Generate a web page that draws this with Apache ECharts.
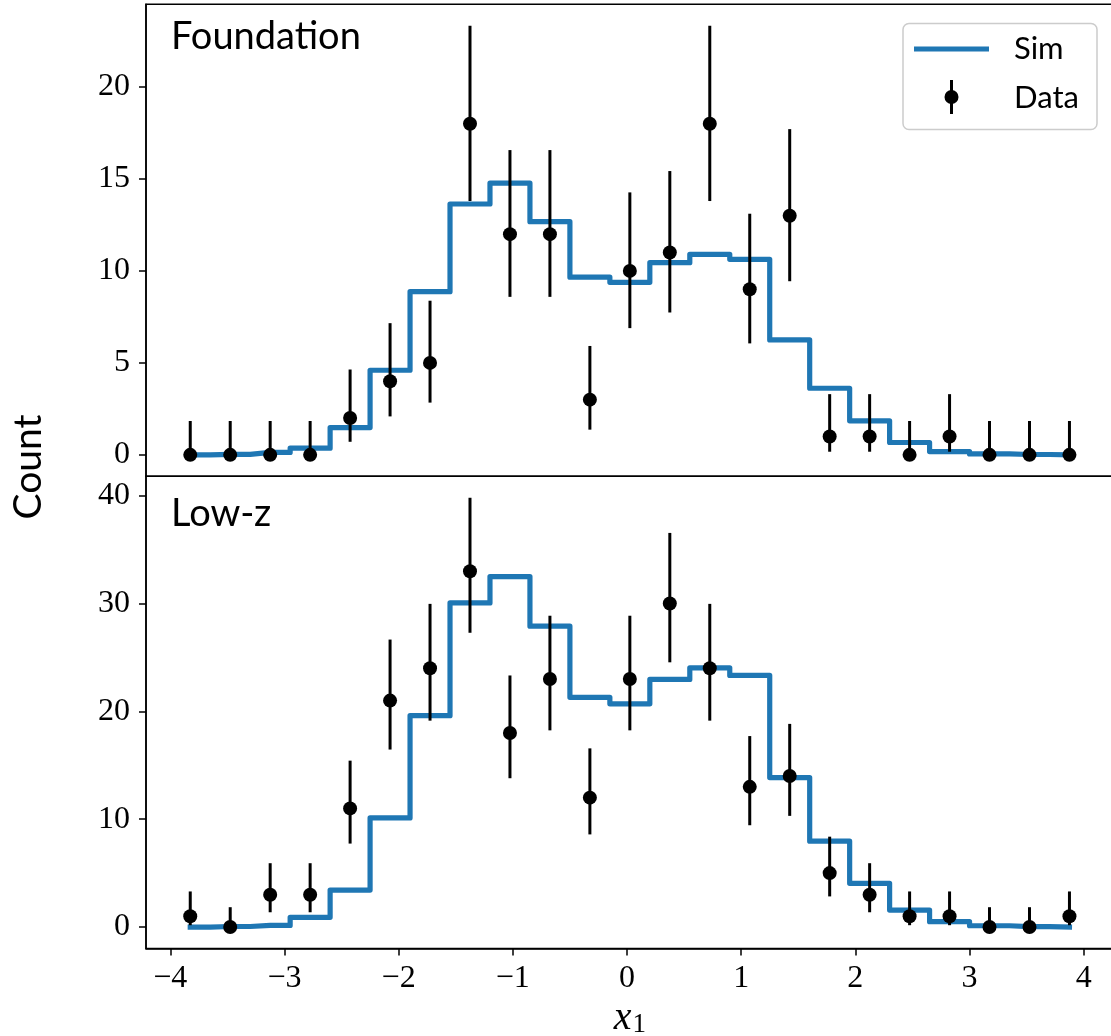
<!DOCTYPE html>
<html>
<head>
<meta charset="utf-8">
<script src="https://cdn.jsdelivr.net/npm/echarts@6/dist/echarts.min.js"></script>
<style>html,body{margin:0;padding:0;background:#fff;}#c{width:1111px;height:1036px;}</style>
</head>
<body>
<div id="c"></div>
<script>
// bin centres (x1)
const centers = [-3.825,-3.475,-3.125,-2.775,-2.425,-2.075,-1.725,-1.375,-1.025,-0.675,-0.325,0.025,0.375,0.725,1.075,1.425,1.775,2.125,2.475,2.825,3.175,3.525,3.875];
// Foundation panel
const foundData = [0,0,0,0,2,4,5,18,12,12,3,10,11,18,9,13,1,1,0,1,0,0,0];
const foundLo = [0,0,0,0,0.71,2.09,2.84,13.80,8.59,8.59,1.37,6.89,7.74,13.80,6.06,9.44,0.17,0.17,0,0.17,0,0,0];
const foundHi = [1.84,1.84,1.84,1.84,4.64,7.16,8.38,23.33,16.57,16.57,5.92,14.27,15.43,23.33,13.11,17.71,3.30,3.30,1.84,3.30,1.84,1.84,1.84];
const foundSim = [0,0.03,0.13,0.36,1.48,4.6,8.87,13.64,14.77,12.68,9.66,9.38,10.45,10.9,10.63,6.25,3.62,1.85,0.67,0.18,0.05,0.02,0.0];
// Low-z panel
const lowData = [1,0,3,3,11,21,24,33,18,23,12,23,30,24,13,14,5,3,1,1,0,0,1];
const lowLo = [0.17,0,1.37,1.37,7.74,16.46,19.14,27.29,13.80,18.24,8.59,18.24,24.55,19.14,9.44,10.31,2.84,1.37,0.17,0.17,0,0,0.17];
const lowHi = [3.30,1.84,5.92,5.92,15.43,26.66,29.97,39.81,23.33,28.87,16.57,28.87,36.55,29.97,17.71,18.84,8.38,5.92,3.30,3.30,1.84,1.84,3.30];
const lowSim = [0,0.05,0.15,0.9,3.43,10.12,19.6,30.06,32.5,27.9,21.3,20.7,22.96,24.04,23.33,13.86,7.96,4.05,1.57,0.5,0.12,0.03,0.0];
// ticks
const xTicks = [-4,-3,-2,-1,0,1,2,3,4];
const yTicksTop = [0,5,10,15,20];
const yTicksBot = [0,10,20,30,40];

const SERIF = "'Liberation Serif', 'DejaVu Serif', serif";
const SANS = "Lato, 'DejaVu Sans', sans-serif";
const BLUE = '#1f77b4';
const fmt = v => v < 0 ? '\u2212' + Math.abs(v) : String(v);

function errSeries(xi, yi, lo, hi) {
  return {
    type: 'custom', xAxisIndex: xi, yAxisIndex: yi, z: 5,
    data: centers.map((c, i) => [c, lo[i], hi[i]]),
    encode: {x: 0, y: [1, 2]},
    renderItem: function (params, api) {
      const a = api.coord([api.value(0), api.value(1)]);
      const b = api.coord([api.value(0), api.value(2)]);
      return {type: 'line', shape: {x1: a[0], y1: a[1], x2: b[0], y2: b[1]},
        style: {stroke: '#000', lineWidth: 3}};
    }
  };
}
function ptSeries(xi, yi, vals) {
  return {type: 'scatter', xAxisIndex: xi, yAxisIndex: yi, z: 6,
    symbol: 'circle', symbolSize: 14, itemStyle: {color: '#000', opacity: 1},
    data: centers.map((c, i) => [c, vals[i]])};
}
function simSeries(xi, yi, vals) {
  return {type: 'line', xAxisIndex: xi, yAxisIndex: yi, z: 3, step: 'middle',
    showSymbol: false, symbol: 'none',
    lineStyle: {color: BLUE, width: 5.2, join: 'round', cap: 'square'},
    data: centers.map((c, i) => [c, vals[i]])};
}
function yAxis(gi, min, max, ticks) {
  return {type: 'value', gridIndex: gi, min: min, max: max,
    axisLine: {show: true, onZero: false, lineStyle: {color: '#000', width: 1.5}},
    axisTick: {show: true, length: 7, inside: false, customValues: ticks, lineStyle: {color: '#000', width: 1.5}},
    axisLabel: {show: true, customValues: ticks, margin: 16, formatter: fmt,
      fontFamily: SERIF, fontSize: 32, color: '#000'},
    splitLine: {show: false}};
}

const chart = echarts.init(document.getElementById('c'), null, {renderer: 'canvas'});
chart.setOption({
  animation: false,
  backgroundColor: '#fff',
  grid: [
    {left: 146, top: 4.3, height: 472, right: -2.7, show: true, borderColor: '#000', borderWidth: 1.5,
      backgroundColor: 'transparent', containLabel: false, outerBoundsMode: 'none'},
    {left: 146, top: 476.3, bottom: 87.5, right: -2.7, show: true, borderColor: '#000', borderWidth: 1.5,
      backgroundColor: 'transparent', containLabel: false, outerBoundsMode: 'none'}
  ],
  xAxis: [
    {type: 'value', gridIndex: 0, min: -4.2125, max: 4.2625,
      axisLine: {show: false, onZero: false}, axisTick: {show: false}, axisLabel: {show: false}, splitLine: {show: false}},
    {type: 'value', gridIndex: 1, min: -4.2125, max: 4.2625,
      axisLine: {show: true, onZero: false, lineStyle: {color: '#000', width: 1.5}},
      axisTick: {show: true, length: 7, customValues: xTicks, lineStyle: {color: '#000', width: 1.5}},
      axisLabel: {show: true, customValues: xTicks, margin: 14, formatter: fmt,
        fontFamily: SERIF, fontSize: 32, color: '#000'},
      splitLine: {show: false},
      name: '{i|x}{s|1}', nameLocation: 'middle', nameGap: 49,
      nameTextStyle: {rich: {
        i: {fontFamily: SERIF, fontStyle: 'italic', fontSize: 40, color: '#000'},
        s: {fontFamily: SERIF, fontSize: 27, color: '#000', padding: [14, 0, 0, 1]}
      }}}
  ],
  yAxis: [
    yAxis(0, -1.1665, 24.4965, yTicksTop),
    yAxis(1, -1.9905, 41.8005, yTicksBot)
  ],
  series: [
    simSeries(0, 0, foundSim), errSeries(0, 0, foundLo, foundHi), ptSeries(0, 0, foundData),
    simSeries(1, 1, lowSim), errSeries(1, 1, lowLo, lowHi), ptSeries(1, 1, lowData)
  ],
  graphic: [
    {type: 'text', left: 171, top: 18, style: {text: 'Foundation', font: '38px ' + SANS, fill: '#000'}},
    {type: 'text', left: 171, top: 495, style: {text: 'Low-z', font: '38px ' + SANS, fill: '#000'}},
    {type: 'text', x: 28, y: 467, rotation: Math.PI / 2,
      style: {text: 'Count', font: '39px ' + SANS, fill: '#000', align: 'center', verticalAlign: 'middle'}},
    {type: 'rect', shape: {x: 903, y: 23.5, width: 194, height: 106, r: 6}, z: 10,
      style: {fill: 'rgba(255,255,255,0.8)', stroke: '#cccccc', lineWidth: 1.5}},
    {type: 'line', shape: {x1: 914, y1: 49, x2: 989, y2: 49}, z: 11,
      style: {stroke: BLUE, lineWidth: 5}},
    {type: 'line', shape: {x1: 951.5, y1: 80, x2: 951.5, y2: 114}, z: 11,
      style: {stroke: '#000', lineWidth: 3}},
    {type: 'circle', shape: {cx: 951.5, cy: 97, r: 7}, z: 11, style: {fill: '#000'}},
    {type: 'text', x: 1014, y: 49, z: 11, style: {text: 'Sim', font: '31px ' + SANS, fill: '#000', verticalAlign: 'middle'}},
    {type: 'text', x: 1014, y: 98, z: 11, style: {text: 'Data', font: '31px ' + SANS, fill: '#000', verticalAlign: 'middle'}}
  ]
});
</script>
</body>
</html>
